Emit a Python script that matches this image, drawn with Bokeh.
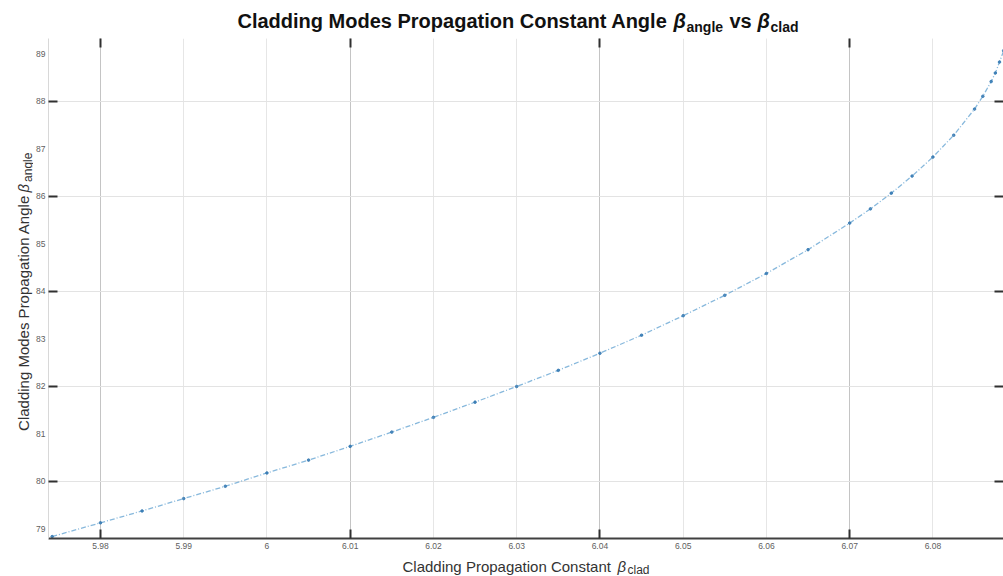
import math
from bokeh.plotting import figure
from bokeh.layouts import column, row
from bokeh.models import Range1d, FixedTicker, LinearAxis, Grid
from bokeh.core.properties import value
from bokeh.embed import file_html
from bokeh.resources import INLINE

# ---- data ----
beta_clad = [5.9742, 5.980, 5.985, 5.990, 5.995, 6.000, 6.005, 6.010, 6.015,
             6.020, 6.025, 6.030, 6.035, 6.040, 6.045, 6.050, 6.055, 6.060,
             6.065, 6.070, 6.0725, 6.075, 6.0775, 6.080, 6.0825, 6.085,
             6.086, 6.087, 6.0875, 6.088, 6.0885, 6.0889]
beta_angle = [78.84, 79.13, 79.38, 79.64, 79.90, 80.18, 80.45, 80.74, 81.04,
              81.35, 81.67, 82.00, 82.34, 82.70, 83.08, 83.49, 83.92, 84.38,
              84.88, 85.44, 85.74, 86.07, 86.43, 86.83, 87.29, 87.84,
              88.11, 88.42, 88.60, 88.83, 89.07, 89.32]

x_ticks = [5.98, 5.99, 6.00, 6.01, 6.02, 6.03, 6.04, 6.05, 6.06, 6.07, 6.08]
x_tick_labels = ["5.98", "5.99", "6", "6.01", "6.02", "6.03", "6.04", "6.05",
                 "6.06", "6.07", "6.08"]
x_major = [5.98, 6.01, 6.04, 6.07]
y_ticks = [79, 80, 81, 82, 83, 84, 85, 86, 87, 88, 89]
y_major = [80, 82, 84, 86, 88]

title_parts = ["Cladding Modes Propagation Constant Angle", "β", "angle", "vs", "β", "clad"]
xlabel_parts = ["Cladding Propagation Constant", "β", "clad"]
ylabel_parts = ["Cladding Modes Propagation Angle", "β", "angle"]

FONT = "Liberation Sans"


def blank_fig(w, h):
    f = figure(width=w, height=h, output_backend="svg", toolbar_location=None,
               x_range=Range1d(0, w), y_range=Range1d(0, h),
               x_axis_location=None, y_axis_location=None,
               min_border=0, min_border_left=0, min_border_right=0,
               min_border_top=0, min_border_bottom=0)
    f.outline_line_color = None
    f.xgrid.visible = False
    f.ygrid.visible = False
    f.background_fill_color = "white"
    f.border_fill_color = "white"
    return f


def put(f, x, y, text, size, style="normal", color="#111111", angle=0.0):
    f.text(x=[x], y=[y], text=[text], text_font=value(FONT),
           text_font_size=size, text_font_style=style, text_color=color,
           text_baseline="alphabetic", text_align="left", angle=angle)


# ---- title figure (page y 0..38) ----
tf = blank_fig(1003, 38)
put(tf, 237, 18, title_parts[0], "20px", "bold")
put(tf, 673, 18, title_parts[1], "20px", "bold italic")
put(tf, 686, 12, title_parts[2], "14px", "bold")
put(tf, 729, 18, title_parts[3], "20px", "bold")
put(tf, 757, 18, title_parts[4], "20px", "bold italic")
put(tf, 770, 12, title_parts[5], "14px", "bold")

# ---- main plot (page x 33..1003, y 38..554) ----
p = figure(width=970, height=516, output_backend="svg", toolbar_location=None,
           x_range=Range1d(5.97376, 6.08848), y_range=Range1d(78.80, 89.326),
           min_border_left=14, min_border_right=0, min_border_top=0,
           min_border_bottom=16, x_axis_location=None, y_axis_location=None)
p.outline_line_color = None
p.background_fill_color = "white"
p.border_fill_color = "white"


def style_axis(ax, line_color, line_width):
    ax.axis_line_color = line_color
    ax.axis_line_width = line_width
    ax.major_tick_line_color = None
    ax.major_tick_in = 0
    ax.major_tick_out = 0
    ax.minor_tick_in = 9
    ax.minor_tick_out = 0
    ax.minor_tick_line_color = "#303030"
    ax.minor_tick_line_width = 2
    ax.major_label_text_font = FONT
    ax.major_label_text_font_size = "8.5px"
    ax.major_label_text_color = "#606060"


xb = LinearAxis(ticker=FixedTicker(ticks=x_ticks, minor_ticks=x_major),
                major_label_overrides={t: l for t, l in zip(x_ticks, x_tick_labels)})
style_axis(xb, "#404040", 2)
xb.major_label_standoff = 4
p.add_layout(xb, "below")

xa = LinearAxis(ticker=FixedTicker(ticks=[], minor_ticks=x_major))
style_axis(xa, None, 1)
xa.major_label_standoff = 0
p.add_layout(xa, "above")

yl = LinearAxis(ticker=FixedTicker(ticks=y_ticks, minor_ticks=y_major))
style_axis(yl, "#d8d8d8", 1)
yl.major_label_standoff = 3
p.add_layout(yl, "left")

yr = LinearAxis(ticker=FixedTicker(ticks=[], minor_ticks=y_major))
style_axis(yr, None, 1)
yr.major_label_standoff = 0
p.add_layout(yr, "right")

p.add_layout(Grid(dimension=0, ticker=FixedTicker(ticks=x_ticks),
                  grid_line_color="#e6e6e6", grid_line_width=1))
p.add_layout(Grid(dimension=0, ticker=FixedTicker(ticks=x_major),
                  grid_line_color="#c4c4c4", grid_line_width=1))
p.add_layout(Grid(dimension=1, ticker=FixedTicker(ticks=y_major),
                  grid_line_color="#e3e3e3", grid_line_width=1))

p.line(beta_clad, beta_angle, line_color="#5fa0d0", line_width=1.3,
       line_alpha=0.75, line_dash="5 2 1 2")
p.scatter(beta_clad, beta_angle, size=2.6, color="#2f76b0", alpha=0.8)

# ---- y label figure (page x 0..33, y 38..554) ----
yf = blank_fig(33, 516)
A = math.pi / 2
put(yf, 23, 111, ylabel_parts[0], "15px", "normal", "#333333", A)
put(yf, 23, 357, ylabel_parts[1], "15px", "italic", "#333333", A)
put(yf, 27, 368, ylabel_parts[2], "12px", "normal", "#333333", A)

# ---- x label figure (page y 554..576) ----
xf = blank_fig(1003, 22)
put(xf, 402, 10, xlabel_parts[0], "15px", "normal", "#333333")
put(xf, 617, 10, xlabel_parts[1], "15px", "italic", "#333333")
put(xf, 627, 7, xlabel_parts[2], "12px", "normal", "#333333")

layout = column(tf, row(yf, p), xf)
open("out.html", "w").write(file_html(layout, INLINE))
